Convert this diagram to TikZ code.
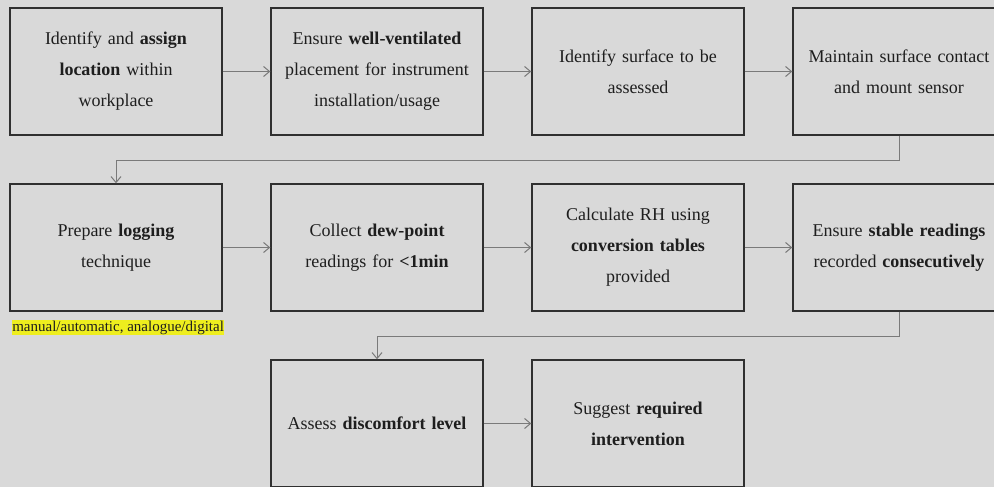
\documentclass[tikz,border=0pt]{standalone}
\usepackage{fontspec}
\setmainfont{Liberation Serif}
\usetikzlibrary{arrows.meta}
\definecolor{bg}{HTML}{D9D9D9}
\definecolor{boxc}{HTML}{303030}
\definecolor{arrc}{HTML}{7A7A7A}
\definecolor{txt}{HTML}{1E1E1E}
\definecolor{hl}{HTML}{EEEE1E}
\begin{document}
\begin{tikzpicture}[x=1pt,y=-1pt,
  stepbox/.style={draw=boxc, line width=1.4pt, fill=bg, minimum width=212pt, minimum height=127pt,
    text width=206pt, align=center, inner sep=0pt, font=\fontsize{18}{31}\selectfont, text=txt},
  conn/.style={draw=arrc, line width=1pt, -{Straight Barb[length=6pt,width=10pt]}}]
\clip (0,0) rectangle (994,487);
\fill[bg] (0,0) rectangle (994,487);
% row 1
\node[stepbox] (b1) at (116,71.5) {Identify and \textbf{assign}\\\textbf{location} within\\workplace};
\node[stepbox] (b2) at (377,71.5) {Ensure \textbf{well-ventilated}\\placement for instrument\\installation/usage};
\node[stepbox] (b3) at (638,71.5) {Identify surface to be\\assessed};
\node[stepbox] (b4) at (899,71.5) {Maintain surface contact\\and mount sensor};
% row 2
\node[stepbox] (b5) at (116,247.5) {Prepare \textbf{logging}\\technique};
\node[stepbox] (b6) at (377,247.5) {Collect \textbf{dew-point}\\readings for \textbf{<1min}};
\node[stepbox] (b7) at (638,247.5) {Calculate RH using\\\textbf{conversion tables}\\provided};
\node[stepbox] (b8) at (899,247.5) {Ensure \textbf{stable readings}\\recorded \textbf{consecutively}};
% row 3
\node[stepbox] (b9) at (377,423.5) {Assess \textbf{discomfort level}};
\node[stepbox] (b10) at (638,423.5) {Suggest \textbf{required}\\\textbf{intervention}};
% note
\node[fill=hl, inner sep=0.6pt, anchor=west, text=txt, font=\fontsize{15}{15}\selectfont] (note) at (11.5,327.5) {manual/automatic, analogue/digital};
% connectors
\draw[conn] (b1.east) -- (b2.west);
\draw[conn] (b2.east) -- (b3.west);
\draw[conn] (b3.east) -- (b4.west);
\draw[conn] (b4.south) -- ++(0,25) -| (b5.north);
\draw[conn] (b5.east) -- (b6.west);
\draw[conn] (b6.east) -- (b7.west);
\draw[conn] (b7.east) -- (b8.west);
\draw[conn] (b8.south) -- ++(0,25) -| (b9.north);
\draw[conn] (b9.east) -- (b10.west);
\end{tikzpicture}
\end{document}
